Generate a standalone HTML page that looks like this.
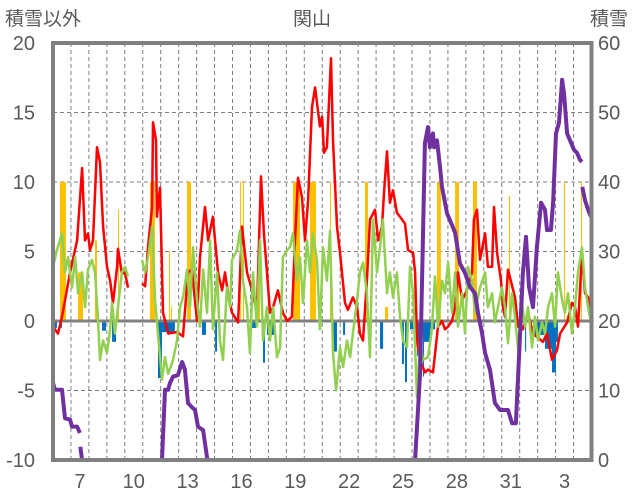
<!DOCTYPE html>
<html><head><meta charset="utf-8"><style>
body{margin:0;background:#fff;}
svg{display:block;font-family:"Liberation Sans","Noto Sans CJK JP",sans-serif;}
</style></head><body>
<svg id="chart" width="636" height="501" viewBox="0 0 636 501">
<text x="5" y="25" font-size="19" fill="#595959">積雪以外</text>
<text x="312" y="25" font-size="19" fill="#595959" text-anchor="middle">関山</text>
<text x="590" y="25" font-size="19" fill="#595959">積雪</text>
<g id="grid"></g><g id="bars"></g><g id="lines"></g><g id="axes"></g>
</svg>
<script>
const leftTicks=[-10,-5,0,5,10,15,20];
const rightTicks=[0,10,20,30,40,50,60];
const dayLabels=["7","10","13","16","19","22","25","28","31","3"];
const dayLabelIdx=[1,4,7,10,13,16,19,22,25,28];
const redT=[0,.28,.5,.95,1.34,1.62,1.67,1.78,1.95,2.06,2.23,2.45,2.62,2.79,3.01,3.18,3.34,3.57,3.62,3.84,4.01,4.18,4.5,4.96,5.13,5.29,5.52,5.57,5.74,5.79,5.96,6.13,6.41,6.91,7.24,7.52,7.74,8.02,8.19,8.47,8.64,8.91,9.19,9.42,9.58,9.75,9.97,10.31,10.53,10.81,11.14,11.36,11.59,11.75,11.92,12.09,12.26,12.53,12.81,13.04,13.31,13.48,13.65,13.87,14.04,14.21,14.43,14.60,14.87,14.99,15.10,15.26,15.32,15.49,15.60,15.82,15.99,16.27,16.43,16.71,16.94,17.10,17.27,17.49,17.66,17.94,18.11,18.33,18.44,18.61,18.77,18.94,19.16,19.33,19.61,19.78,20.06,20.17,20.28,20.45,20.72,20.89,21.17,21.45,21.67,21.84,22.01,22.23,22.40,22.56,22.79,23.06,23.34,23.45,23.62,23.79,24.07,24.23,24.46,24.57,24.74,24.96,25.07,25.18,25.35,25.74,25.91,26.18,26.46,26.74,27.30,27.52,27.80,28.08,28.25,28.64,28.91,29.08,29.25,29.47,29.64,29.81,29.92];
const redV=[-0.4,-0.9,0.3,3.5,5.8,11,9.4,5.8,6.3,5.1,5.8,12.5,11.4,6.8,3.9,2.9,1.3,3.9,5.2,3.4,3.5,2.4,null,2.7,2.5,5.3,8.2,14.3,13,7.5,9.6,0.6,-0.9,-0.8,-1.1,3.5,3.7,0,4.6,8.2,5.8,7.5,3.5,2.2,3.5,2,0.6,-0.1,6.8,3.5,2,0.6,10.4,6.3,3.5,0.6,1,2.2,0.6,0,0.3,5.8,10.3,8.9,5.8,8.7,15.4,16.8,14,14.7,12.1,12.5,14.2,18.9,13,6.8,4.9,1.3,0.8,1.7,1,-0.9,-1.4,2.9,7.3,8,5.8,6.8,9.2,12.2,8.5,9.4,7.8,7.5,7,5.1,4.9,3.5,-1.4,-2.8,-3.7,-3.5,-3.7,-0.4,0,-0.6,-0.4,0,1,3.5,1.5,2.2,3.5,7.3,8,4.4,6.3,3.9,3.9,8.2,4.9,2.9,1,0.3,3.7,1.7,-0.4,-0.6,0.6,-0.9,-1.5,-0.9,-2.8,-2.1,-0.9,-0.1,1.3,1,-0.4,4.9,2,1.7,1];
const greenT=[0,.22,.5,.67,.84,1.06,1.23,1.39,1.62,1.78,1.95,2.17,2.34,2.51,2.62,2.79,3.01,3.18,3.29,3.45,3.62,3.84,4.01,4.18,4.5,4.96,5.13,5.29,5.52,5.68,5.85,6.07,6.24,6.41,6.69,6.91,7.08,7.24,7.47,7.63,7.80,8.02,8.19,8.36,8.58,8.75,8.91,9.14,9.30,9.47,9.69,9.86,9.97,10.25,10.42,10.58,10.81,10.97,11.14,11.36,11.53,11.70,11.92,12.09,12.26,12.48,12.65,12.81,13.04,13.20,13.37,13.59,13.76,13.93,14.15,14.32,14.48,14.71,14.87,15.04,15.26,15.43,15.60,15.77,15.99,16.16,16.38,16.55,16.71,16.94,17.10,17.27,17.49,17.66,17.83,18.05,18.22,18.38,18.61,18.77,18.94,19.16,19.33,19.50,19.72,19.89,20.06,20.28,20.45,20.61,20.89,21.11,21.28,21.45,21.67,21.84,22.01,22.23,22.40,22.56,22.79,22.95,23.12,23.34,23.51,23.79,24.07,24.23,24.46,24.62,24.79,25.01,25.18,25.35,25.57,25.74,25.91,26.13,26.30,26.46,26.69,26.85,27.02,27.24,27.41,27.58,27.80,27.97,28.13,28.36,28.52,28.69,28.91,29.08,29.25,29.47,29.64,29.81,29.97];
const greenV=[3.9,5.1,6.3,3.5,4.6,2.4,4.6,2,3.5,1,3.7,4.4,3.5,0,-2.8,-1.4,-2.3,-0.6,1.3,-0.9,1,3.5,3.9,3.2,null,4.4,3.5,4.6,6.8,1.5,-0.9,-4.2,-2.6,-3.8,-2.8,-1.4,1,1.7,3.7,1,5.3,1.5,-0.4,3.7,0.6,5.8,-0.6,3.5,-1.4,-2.8,2.4,1,4.4,5.1,6.5,2.9,1,-2.3,3.5,-0.4,5.8,-1.4,1,-1.4,1,-2.6,-1.9,4.6,5.1,5.3,6.3,2.9,4.6,1.3,5.8,3.5,6.3,4.4,-0.6,5.3,2.9,6.5,-2.3,-5,-1.9,-3.3,-1.4,-2.6,-0.9,1.5,3.5,4.2,2,-2.6,7.3,3.5,5.3,7.3,2,3.5,1.7,3.5,0.3,-1.4,-1.9,3.9,2,-5.5,-1.4,-2.8,-2.6,-0.6,3.2,-0.4,2.9,2,4.2,0.6,3.5,-0.4,2,-0.9,3.9,2.9,0.6,2.4,3.5,1,2,-0.1,1,2.4,1,-1.6,2,0.3,-2.1,1.3,-0.4,1,-1.9,0.3,-1.4,-0.1,-0.9,1,2,-0.4,3.5,1.5,0.6,2,-0.9,1,3.5,5.3,2.4,1,-0.1];
const snowT=[0,.11,.5,.67,.95,1.06,1.34,1.5,1.51,1.52,1.62,6.07,6.24,6.41,6.52,6.69,6.96,7.19,7.35,7.52,7.74,7.91,8.08,8.36,8.58,8.64,20.17,20.45,20.61,20.72,20.89,21.0,21.17,21.23,21.39,21.56,21.67,21.95,22.23,22.40,22.67,22.95,23.23,23.51,23.68,23.90,24.07,24.35,24.62,24.90,25.35,25.57,25.79,25.96,26.18,26.35,26.52,26.74,26.96,27.19,27.41,27.52,27.74,27.86,28.02,28.19,28.36,28.47,28.64,28.80,29.03,29.19,29.36,29.47,29.48,29.49,29.64,29.81,29.97];
const snowV=[11.1,10.1,10.1,6,5.8,4.8,4.8,3.9,null,1.9,0,0,10.1,10.1,11.1,12,12.2,14.1,13,8.2,7.6,7.2,4.8,4.3,0.4,0,0,12.5,31.7,45.6,47.9,45,47,45,46,42.2,39.3,35.5,33.8,32.7,28.3,26.9,24.9,24,21.1,18.3,15.4,12.9,8.2,7.2,7.2,5.3,5.3,14.8,26.9,32.1,24.9,22,30.6,37,36,33.1,33.1,37,47,48.5,54.7,52.8,47,46,44.6,44.2,43.2,42.9,null,39.3,37.4,36,35];
const precipT=[.39,1.39,2.34,3.62,5.40,6.46,6.57,7.47,10.42,10.58,11.42,13.37,14.32,15.43,17.38,18.5,21.39,22.4,23.4,25.4,28.47,29.41];
const precipW=[.33,.28,.11,.06,.28,.06,.06,.22,.06,.06,.11,.39,.33,.06,.17,.17,.22,.22,.22,.06,.06,.06];
const precipV=[10,3.5,5.8,8,10,5,1,10,10,10,6.7,10,10,10,10,1,10,10,10,9,10,10];
const negT=[.11,.39,2.73,3.29,5.85,6.07,8.3,9.03,11.09,11.7,11.92,15.6,16.16,18.22,19.44,19.61,19.89,20.28,20.61,20.67,21,26.3,26.74,27.41,27.8,28.02];
const negW=[.11,.11,.22,.22,.22,.72,.22,.11,.22,.11,.45,.22,.11,.17,.11,.11,.39,.17,.06,.33,.28,.06,.67,.39,.22,.11];
const negV=[-0.5,-0.5,-0.7,-1.5,-4.1,-0.8,-1,-2.2,-0.5,-3,-1,-2.2,-1,-2,-3.1,-4.4,-0.6,-2.5,-4,-1.5,-0.6,-2.2,-1,-2,-3.7,-1.5];

const X0=53,DAY=17.95,NDAYS=30,YT=43,YB=460;
const xs=t=>X0+t*DAY;
const yl=v=>YB-(v+10)/30*(YB-YT);
const yr=v=>YB-v/60*(YB-YT);
const NS="http://www.w3.org/2000/svg";
function mk(tag,attrs,parent){const e=document.createElementNS(NS,tag);for(const k in attrs)e.setAttribute(k,attrs[k]);parent.appendChild(e);return e;}
const grid=document.getElementById('grid'),bars=document.getElementById('bars'),lines=document.getElementById('lines'),axes=document.getElementById('axes');
leftTicks.forEach((v,i)=>{
  if(v!==0&&v!==20&&v!==-10){const l=mk('line',{x1:X0,x2:xs(NDAYS),y1:yl(v),y2:yl(v),stroke:'#808080','stroke-width':1,'stroke-dasharray':'4,3'},grid);
  
  }
  const t=mk('text',{x:35,y:yl(v)+7,'font-size':20,fill:'#595959','text-anchor':'end'},axes);t.textContent=v;
  
  
});
rightTicks.forEach(v=>{const t=mk('text',{x:598,y:yr(v)+7,'font-size':20,fill:'#595959'},axes);t.textContent=v;
  
  });
for(let d=1;d<NDAYS;d++){const l=mk('line',{x1:xs(d),x2:xs(d),y1:YT,y2:YB,stroke:'#808080','stroke-width':1,'stroke-dasharray':'4,3'},grid);
  
  }
dayLabels.forEach((s,i)=>{const t=mk('text',{x:xs(dayLabelIdx[i]+0.5),y:488,'font-size':20,fill:'#595959','text-anchor':'middle'},axes);t.textContent=s;
  
  });
precipT.forEach((t,i)=>{const y0=yl(0),y1=yl(precipV[i]);const r=mk('rect',{x:xs(t),y:y1,width:Math.max(1,precipW[i]*DAY),height:y0-y1,fill:'#ffc000'},bars);
  
  });
negT.forEach((t,i)=>{const y0=yl(0),y1=yl(negV[i]);const r=mk('rect',{x:xs(t),y:y0,width:Math.max(1,negW[i]*DAY),height:y1-y0,fill:'#0070c0'},bars);
  
  });
const z=mk('line',{x1:X0,x2:xs(NDAYS),y1:yl(0),y2:yl(0),stroke:'#808080','stroke-width':3},bars);


function pathD(T,V,ys){let d='',pen=false;T.forEach((t,i)=>{if(V[i]===null){pen=false;return;}d+=(pen?'L':'M')+xs(t).toFixed(1)+','+ys(V[i]).toFixed(1);pen=true;});return d;}
const pr=mk('path',{d:pathD(redT,redV,yl),fill:'none',stroke:'#ff0000','stroke-width':2.5,'stroke-linejoin':'round'},lines);


const pg=mk('path',{d:pathD(greenT,greenV,yl),fill:'none',stroke:'#92d050','stroke-width':2.5,'stroke-linejoin':'round'},lines);


const pp=mk('path',{d:pathD(snowT,snowV,yr),fill:'none',stroke:'#7030a0','stroke-width':4,'stroke-linejoin':'round'},lines);


const fr=mk('rect',{x:X0,y:YT,width:xs(NDAYS)-X0,height:YB-YT,fill:'none',stroke:'#808080','stroke-width':4},axes);


</script>
</body></html>
